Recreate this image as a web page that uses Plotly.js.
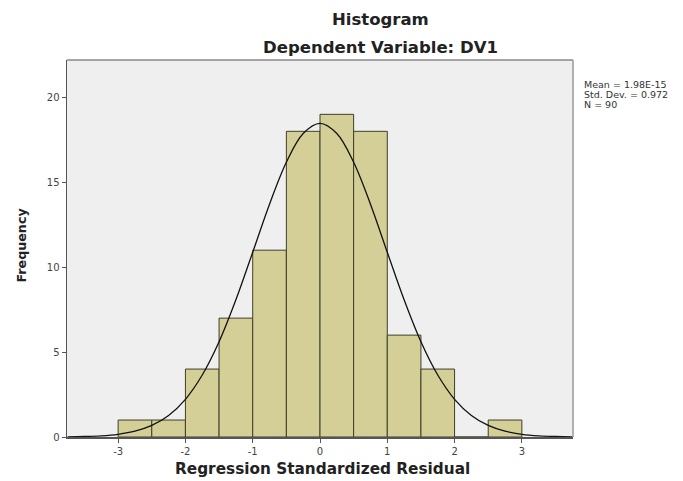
<!DOCTYPE html>
<html>
<head>
<meta charset="utf-8">
<script src="https://cdn.plot.ly/plotly-3.0.1.min.js"></script>
<style>html,body{margin:0;padding:0;background:#fff;}#chart{width:683px;height:481px;}</style>
</head>
<body>
<div id="chart"></div>
<script>
// Histogram bins (centers) and frequencies
const binCenters = [-2.75, -2.25, -1.75, -1.25, -0.75, -0.25, 0.25, 0.75, 1.25, 1.75, 2.25, 2.75];
const frequencies = [1, 1, 4, 7, 11, 18, 19, 18, 6, 4, 0, 1];
// Normal curve
const curveX = [-3.75, -3.5, -3.25, -3, -2.75, -2.5, -2.25, -2, -1.75, -1.5, -1.25, -1, -0.75, -0.5, -0.25, 0,
                0.25, 0.5, 0.75, 1, 1.25, 1.5, 1.75, 2, 2.25, 2.5, 2.75, 3, 3.25, 3.5, 3.75];
const curveY = [0.01, 0.03, 0.07, 0.16, 0.34, 0.68, 1.27, 2.22, 3.65, 5.61, 8.08, 10.88, 13.71, 16.18, 17.87, 18.47,
                17.87, 16.18, 13.71, 10.88, 8.08, 5.61, 3.65, 2.22, 1.27, 0.68, 0.34, 0.16, 0.07, 0.03, 0.01];
const xTicks = [-3, -2, -1, 0, 1, 2, 3];
const yTicks = [0, 5, 10, 15, 20];
const statsLines = ["Mean = 1.98E-15", "Std. Dev. = 0.972", "N = 90"];

const font = "DejaVu Sans, Arial, sans-serif";

const traces = [
  {
    type: "bar", x: binCenters, y: frequencies, width: 0.5,
    marker: {color: "#d3cf97", line: {color: "#3f3f2a", width: 1}},
    hoverinfo: "skip"
  },
  {
    type: "scatter", mode: "lines", x: curveX, y: curveY,
    line: {color: "#111", width: 1.3, shape: "spline"},
    hoverinfo: "skip"
  }
];

const annotations = [
  {text: "<b>Histogram</b>", xref: "paper", yref: "paper", x: 0.619, y: 1.107, yanchor: "middle", showarrow: false,
   font: {family: font, size: 16.5, color: "#222"}},
  {text: "<b>Dependent Variable: DV1</b>", xref: "paper", yref: "paper", x: 0.619, y: 1.034, yanchor: "middle", showarrow: false,
   font: {family: font, size: 16.5, color: "#222"}},
  {text: "<b>Regression Standardized Residual</b>", xref: "paper", yref: "paper", x: 0.504, y: -0.085, yanchor: "middle",
   showarrow: false, font: {family: font, size: 15.3, color: "#222"}},
  {text: "<b>Frequency</b>", xref: "paper", yref: "paper", x: -0.09, y: 0.509, xanchor: "center", yanchor: "middle",
   showarrow: false, textangle: -90, font: {family: font, size: 12.7, color: "#222"}}
];
statsLines.forEach((t, i) => {
  annotations.push({text: t, xref: "paper", yref: "paper", x: 1.018, y: 0.936 - i * 0.0265, xanchor: "left",
    yanchor: "middle", showarrow: false, font: {family: font, size: 9.5, color: "#333"}});
});

const layout = {
  width: 683, height: 481,
  margin: {l: 67, r: 110, t: 60, b: 44},
  paper_bgcolor: "#ffffff", plot_bgcolor: "#efefef",
  showlegend: false, bargap: 0,
  font: {family: font, color: "#444"},
  xaxis: {range: [-3.76, 3.76], tickvals: xTicks, ticktext: xTicks.map(String), ticks: "outside", ticklen: 4,
          tickcolor: "#555", showline: true, linecolor: "#555", linewidth: 1.5, showgrid: false, zeroline: false,
          tickfont: {size: 10, color: "#444"}},
  yaxis: {range: [0, 22.2], tickvals: yTicks, ticktext: yTicks.map(String), ticks: "outside", ticklen: 4,
          tickcolor: "#555", showline: true, linecolor: "#555", linewidth: 1.5, showgrid: false, zeroline: false,
          tickfont: {size: 10, color: "#444"}},
  shapes: [
    {type: "line", xref: "paper", yref: "paper", x0: 0, x1: 1, y0: 1, y1: 1, line: {color: "#888", width: 1.5}},
    {type: "line", xref: "paper", yref: "paper", x0: 1, x1: 1, y0: 0, y1: 1, line: {color: "#999", width: 1.5}}
  ],
  annotations: annotations
};

Plotly.newPlot("chart", traces, layout, {displayModeBar: false, staticPlot: true});
</script>
</body>
</html>
